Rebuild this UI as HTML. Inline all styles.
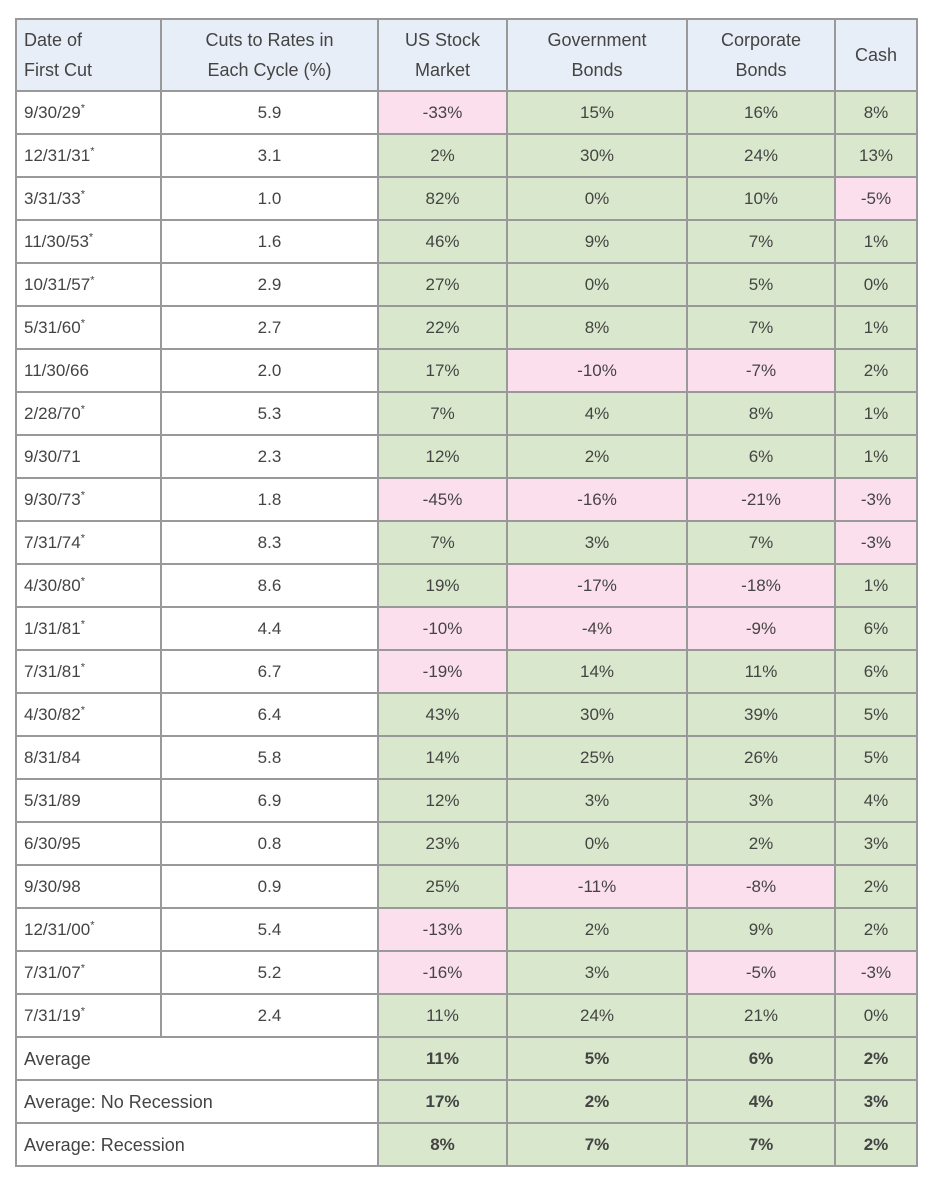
<!DOCTYPE html>
<html><head><style>
body{margin:0;background:#fff;width:931px;height:1183px;overflow:hidden}
table{position:absolute;left:15px;top:18px;border-collapse:collapse;table-layout:fixed;font-family:"Liberation Sans",sans-serif;font-size:17px;color:#444}
td{border:2px solid #999;height:41px;padding:0;text-align:center;line-height:20px}
tr.h td{background:#e7eef7;height:70px;font-size:18px;line-height:30px}
td.l{text-align:left;padding-left:7px}
.g{background:#d9e8cc}.p{background:#fbdfec}
sup{font-size:11px;line-height:0}
tr.a td{font-weight:bold}
tr.a td.l{font-weight:normal;font-size:18px}
</style></head><body>
<table>
<colgroup><col style="width:145px"><col style="width:217px"><col style="width:129px"><col style="width:180px"><col style="width:148px"><col style="width:82px"></colgroup>
<tr class="h"><td class="l">Date of<br>First Cut</td><td>Cuts to Rates in<br>Each Cycle (%)</td><td>US Stock<br>Market</td><td>Government<br>Bonds</td><td>Corporate<br>Bonds</td><td>Cash</td></tr>
<tr><td class="l">9/30/29<sup>*</sup></td><td>5.9</td><td class="p">-33%</td><td class="g">15%</td><td class="g">16%</td><td class="g">8%</td></tr>
<tr><td class="l">12/31/31<sup>*</sup></td><td>3.1</td><td class="g">2%</td><td class="g">30%</td><td class="g">24%</td><td class="g">13%</td></tr>
<tr><td class="l">3/31/33<sup>*</sup></td><td>1.0</td><td class="g">82%</td><td class="g">0%</td><td class="g">10%</td><td class="p">-5%</td></tr>
<tr><td class="l">11/30/53<sup>*</sup></td><td>1.6</td><td class="g">46%</td><td class="g">9%</td><td class="g">7%</td><td class="g">1%</td></tr>
<tr><td class="l">10/31/57<sup>*</sup></td><td>2.9</td><td class="g">27%</td><td class="g">0%</td><td class="g">5%</td><td class="g">0%</td></tr>
<tr><td class="l">5/31/60<sup>*</sup></td><td>2.7</td><td class="g">22%</td><td class="g">8%</td><td class="g">7%</td><td class="g">1%</td></tr>
<tr><td class="l">11/30/66</td><td>2.0</td><td class="g">17%</td><td class="p">-10%</td><td class="p">-7%</td><td class="g">2%</td></tr>
<tr><td class="l">2/28/70<sup>*</sup></td><td>5.3</td><td class="g">7%</td><td class="g">4%</td><td class="g">8%</td><td class="g">1%</td></tr>
<tr><td class="l">9/30/71</td><td>2.3</td><td class="g">12%</td><td class="g">2%</td><td class="g">6%</td><td class="g">1%</td></tr>
<tr><td class="l">9/30/73<sup>*</sup></td><td>1.8</td><td class="p">-45%</td><td class="p">-16%</td><td class="p">-21%</td><td class="p">-3%</td></tr>
<tr><td class="l">7/31/74<sup>*</sup></td><td>8.3</td><td class="g">7%</td><td class="g">3%</td><td class="g">7%</td><td class="p">-3%</td></tr>
<tr><td class="l">4/30/80<sup>*</sup></td><td>8.6</td><td class="g">19%</td><td class="p">-17%</td><td class="p">-18%</td><td class="g">1%</td></tr>
<tr><td class="l">1/31/81<sup>*</sup></td><td>4.4</td><td class="p">-10%</td><td class="p">-4%</td><td class="p">-9%</td><td class="g">6%</td></tr>
<tr><td class="l">7/31/81<sup>*</sup></td><td>6.7</td><td class="p">-19%</td><td class="g">14%</td><td class="g">11%</td><td class="g">6%</td></tr>
<tr><td class="l">4/30/82<sup>*</sup></td><td>6.4</td><td class="g">43%</td><td class="g">30%</td><td class="g">39%</td><td class="g">5%</td></tr>
<tr><td class="l">8/31/84</td><td>5.8</td><td class="g">14%</td><td class="g">25%</td><td class="g">26%</td><td class="g">5%</td></tr>
<tr><td class="l">5/31/89</td><td>6.9</td><td class="g">12%</td><td class="g">3%</td><td class="g">3%</td><td class="g">4%</td></tr>
<tr><td class="l">6/30/95</td><td>0.8</td><td class="g">23%</td><td class="g">0%</td><td class="g">2%</td><td class="g">3%</td></tr>
<tr><td class="l">9/30/98</td><td>0.9</td><td class="g">25%</td><td class="p">-11%</td><td class="p">-8%</td><td class="g">2%</td></tr>
<tr><td class="l">12/31/00<sup>*</sup></td><td>5.4</td><td class="p">-13%</td><td class="g">2%</td><td class="g">9%</td><td class="g">2%</td></tr>
<tr><td class="l">7/31/07<sup>*</sup></td><td>5.2</td><td class="p">-16%</td><td class="g">3%</td><td class="p">-5%</td><td class="p">-3%</td></tr>
<tr><td class="l">7/31/19<sup>*</sup></td><td>2.4</td><td class="g">11%</td><td class="g">24%</td><td class="g">21%</td><td class="g">0%</td></tr>
<tr class="a"><td class="l" colspan="2">Average</td><td class="g">11%</td><td class="g">5%</td><td class="g">6%</td><td class="g">2%</td></tr>
<tr class="a"><td class="l" colspan="2">Average: No Recession</td><td class="g">17%</td><td class="g">2%</td><td class="g">4%</td><td class="g">3%</td></tr>
<tr class="a"><td class="l" colspan="2">Average: Recession</td><td class="g">8%</td><td class="g">7%</td><td class="g">7%</td><td class="g">2%</td></tr>
</table>
</body></html>
